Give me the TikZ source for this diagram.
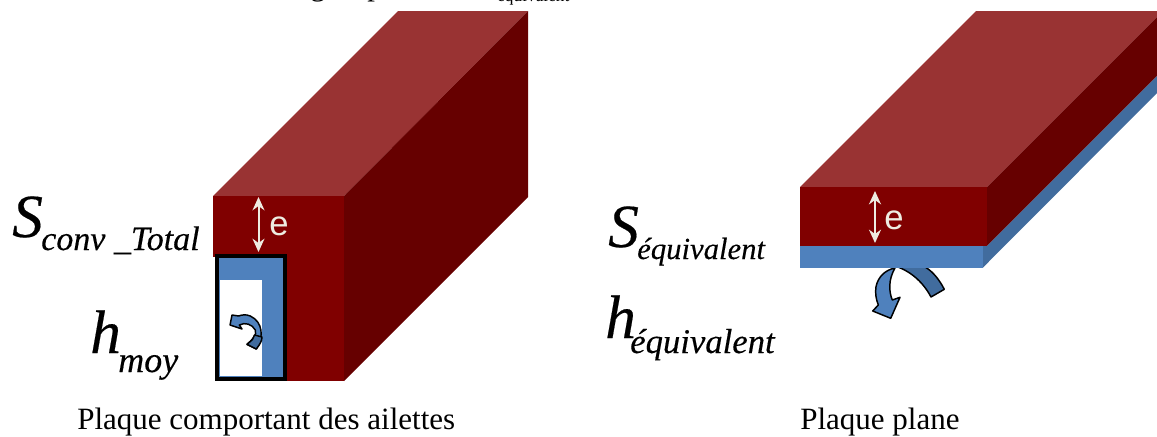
\documentclass[tikz,border=0pt]{standalone}
\usepackage{fontspec}
\setmainfont{Liberation Serif}
\newfontfamily\arialfont{Liberation Sans}
\newfontface\labelfont[FakeBold=0.3]{Liberation Serif Italic}
\usetikzlibrary{arrows.meta, positioning}
\definecolor{topred}{HTML}{993333}
\definecolor{frontred}{HTML}{800000}
\definecolor{sidered}{HTML}{660000}
\definecolor{finblue}{HTML}{4F81BD}
\definecolor{shadeblue}{HTML}{416C9E}
\definecolor{paleline}{HTML}{EEECE1}
\tikzset{
  letterbig/.style={inner sep=0, anchor=base west, font=\fontsize{46}{46}\labelfont},
  lettersub/.style={inner sep=0, anchor=base west, font=\fontsize{#1}{#1}\labelfont},
  caption/.style={inner sep=0, anchor=base west, font=\fontsize{23.25}{23.25}\selectfont},
  thick label/.style={inner sep=0, font=\arialfont\fontsize{26}{26}\selectfont, text=paleline},
  thickness/.style={{Stealth[length=10pt,width=9pt]}-{Stealth[length=10pt,width=9pt]}, draw=paleline, line width=1.5pt},
  curlarrow/.style={draw=black, line width=1.1pt, line join=round}
}

\begin{document}
\begin{tikzpicture}[x=0.75pt, y=-0.75pt]
  \clip (0, 0) rectangle (1157, 436);

  % Fragments of the line cut by the top edge
  \node[inner sep=0, anchor=base west, font=\fontsize{23}{23}\selectfont] (cutg) at (310, -5) {g};
  \node[inner sep=0, anchor=base west, font=\fontsize{23}{23}\selectfont] (cutp) at (367, -5) {p};
  \node[inner sep=0, anchor=base west, font=\fontsize{13}{13}\selectfont] (cutsub) at (497, 1) {équivalent};

  % Plate with fins
  \fill[topred] (213, 196) -- (344, 196) -- (528, 11) -- (398, 11) -- cycle;
  \fill[sidered] (344, 196) -- (528, 11) -- (528, 197) -- (344, 381) -- cycle;
  \fill[frontred] (213, 196) rectangle (344, 257);
  \fill[frontred] (285, 254) rectangle (344, 381);

  % Fin
  \fill[finblue] (217, 256) rectangle (285, 379);
  \fill[white] (220, 280) rectangle (262, 376);
  \draw[black, line width=3pt] (217, 256) rectangle (285, 379);

  % Small arrow in the fin
  \draw[curlarrow, fill=finblue] (256.3, 349) .. controls (264, 337) and (263, 322) .. (250.3, 316)
    .. controls (246, 314) and (241, 315) .. (238.7, 316) -- (232, 315) -- (230, 325) -- (242, 329) -- (239.3, 325)
    .. controls (245, 322) and (252, 324) .. (255.3, 330) .. controls (257, 335) and (253, 339) .. (247, 344.3) -- cycle;
  \draw[curlarrow, fill=shadeblue] (256.3, 349) .. controls (260, 344) and (262, 341) .. (262, 337)
    -- (254.5, 335) .. controls (254, 339) and (252, 340) .. (247, 344.3) -- cycle;

  \coordinate (etopa) at (258.5, 197);
  \coordinate (ebota) at (258.5, 252);
  \draw[thickness] (etopa) -- (ebota);
  \node[thick label] (ea) at (279, 226) {e};

  % Flat plate
  \fill[topred] (800, 187) -- (987, 187) -- (1163, 11) -- (976, 11) -- cycle;
  \fill[sidered] (987, 187) -- (1163, 11) -- (1163, 70) -- (987, 246) -- cycle;
  \fill[shadeblue] (987, 246) -- (1163, 70) -- (1163, 87) -- (983, 267.5) -- (983, 246) -- cycle;

  % Large arrow below the plate
  \draw[curlarrow, fill=shadeblue] (944.3, 289.3) .. controls (938, 277) and (930, 269) .. (923, 266)
    -- (895, 266) .. controls (908, 270) and (922, 280) .. (931, 297) -- cycle;
  \draw[curlarrow, fill=finblue] (895, 268) .. controls (885, 270) and (878, 277) .. (876, 286.7)
    .. controls (875, 293) and (876, 299) .. (878.3, 305) -- (872.7, 311) -- (890.7, 318.3) -- (900, 297.3) -- (892.3, 300)
    .. controls (889, 292) and (888, 280) .. (895, 268) -- cycle;

  \fill[frontred] (800, 187) rectangle (987, 246);
  \fill[finblue] (800, 246) rectangle (983, 267.5);

  \coordinate (etopb) at (875, 191);
  \coordinate (ebotb) at (875, 243);
  \draw[thickness] (etopb) -- (ebotb);
  \node[thick label] (eb) at (894, 220) {e};

  % Labels
  \node[letterbig] (sconv) at (12, 237) {S};
  \node[lettersub=25.5] (sconvsub) at (41, 250) {conv \_Total};
  \node[letterbig] (hmoy) at (90, 353) {h};
  \node[lettersub=27] (hmoysub) at (118, 372) {moy};
  \node[letterbig] (sequi) at (608, 247) {S};
  \node[lettersub=23] (sequisub) at (637, 259) {équivalent};
  \node[letterbig] (hequi) at (605, 338) {h};
  \node[lettersub=26] (hequisub) at (630, 353) {équivalent};

  % Captions
  \node[caption] (capfin) at (77, 429) {Plaque comportant des ailettes};
  \node[caption] (capflat) at (800, 429) {Plaque plane};
\end{tikzpicture}
\end{document}
